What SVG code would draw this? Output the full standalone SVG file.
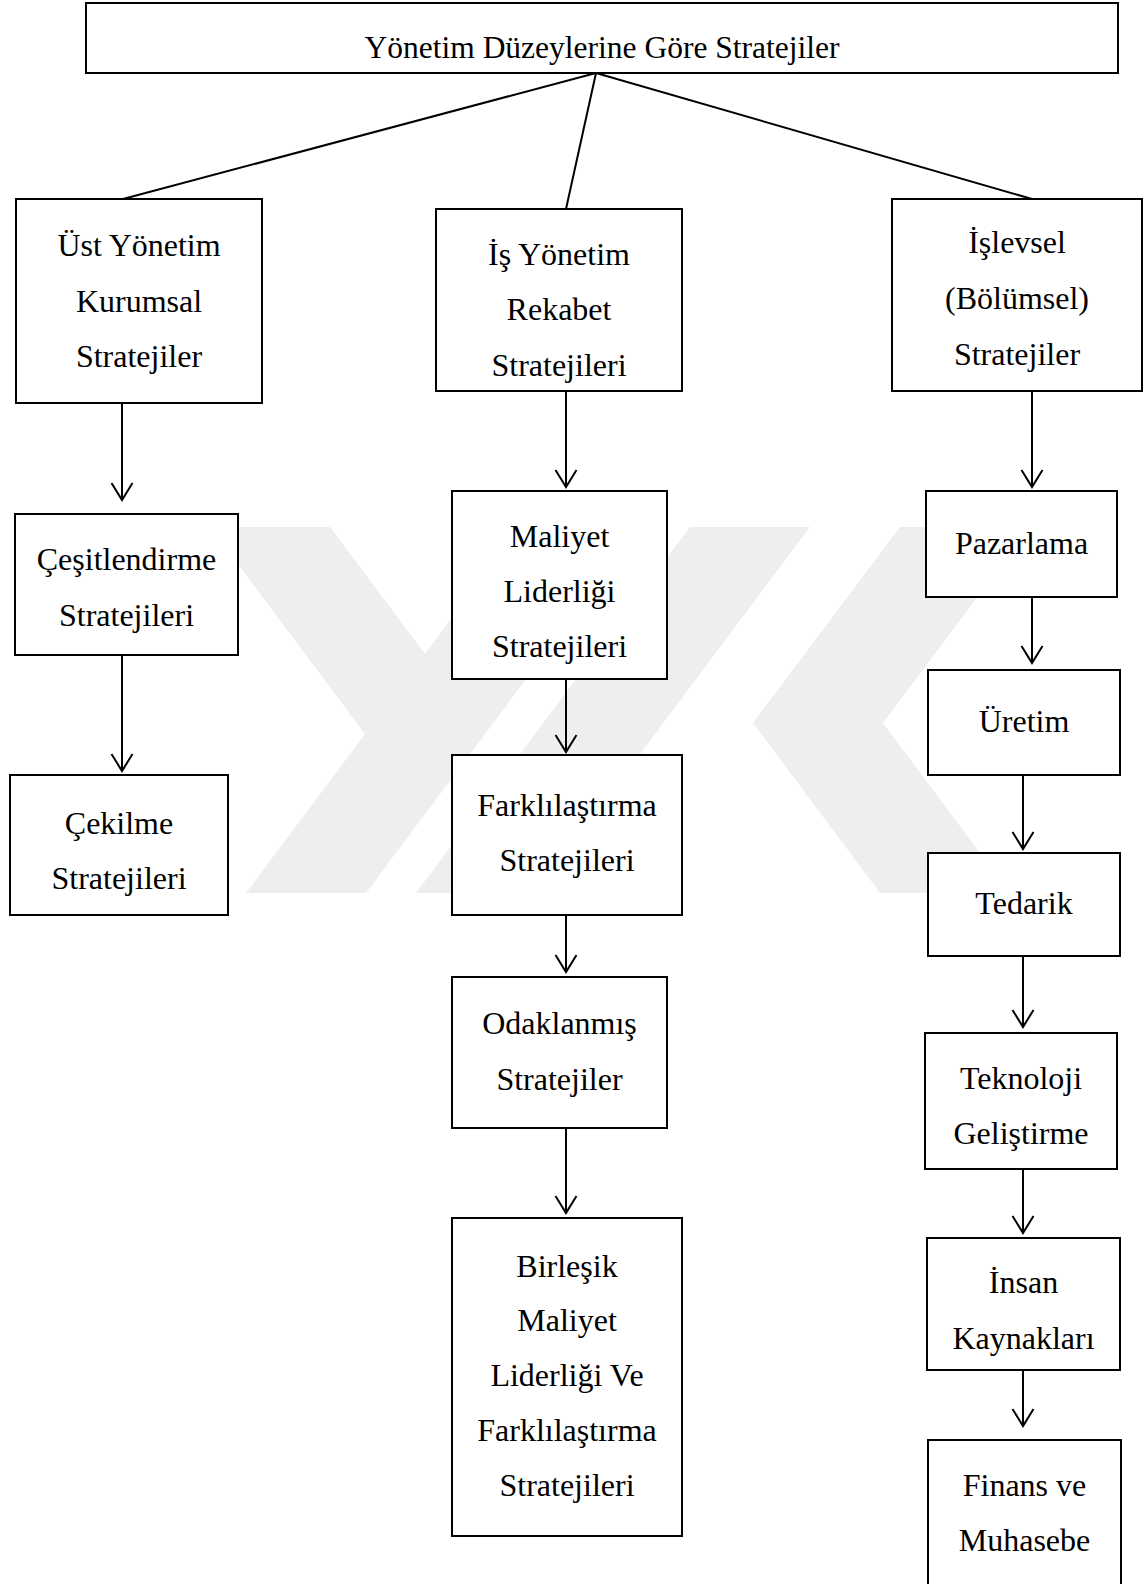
<svg xmlns="http://www.w3.org/2000/svg" width="1148" height="1584" viewBox="0 0 1148 1584">
<defs>
<style>
.box{fill:#fff;stroke:#000;stroke-width:2}
.t{font-family:"Liberation Serif","Times New Roman",serif;font-size:32px;fill:#000;text-anchor:middle}
.title{font-size:31.5px}
.ln{stroke:#000;stroke-width:2;fill:none}
.ar{stroke:#000;stroke-width:2;fill:none;marker-end:url(#ah)}
.wm{fill:#eeeeee}
</style>
<marker id="ah" markerWidth="22" markerHeight="24" refX="19" refY="12" orient="auto" markerUnits="userSpaceOnUse">
<path d="M2,1.5 L19,12 L2,22.5" fill="none" stroke="#000" stroke-width="2"/>
</marker>
</defs>
<rect width="1148" height="1584" fill="#fff"/>
<g id="watermark">
<polygon class="wm" points="210,527 330,527 425,654 365,734"/>
<polygon class="wm" points="520,527 640,527 366,893 246,893"/>
<polygon class="wm" points="690,527 810,527 536,893 416,893"/>
<polygon class="wm" points="900,527 1030,527 883,723 1010,893 880,893 753,723"/>
</g>
<g id="connectors">
<line class="ln" x1="596" y1="73" x2="123" y2="199"/>
<line class="ln" x1="596" y1="73" x2="566" y2="209"/>
<line class="ln" x1="596" y1="73" x2="1032" y2="199"/>
<line class="ar" x1="122" y1="403" x2="122" y2="500"/>
<line class="ar" x1="122" y1="655" x2="122" y2="771"/>
<line class="ar" x1="566" y1="391" x2="566" y2="487"/>
<line class="ar" x1="566" y1="679" x2="566" y2="752"/>
<line class="ar" x1="566" y1="915" x2="566" y2="972"/>
<line class="ar" x1="566" y1="1128" x2="566" y2="1213"/>
<line class="ar" x1="1032" y1="391" x2="1032" y2="487"/>
<line class="ar" x1="1032" y1="597" x2="1032" y2="663"/>
<line class="ar" x1="1023" y1="775" x2="1023" y2="849"/>
<line class="ar" x1="1023" y1="956" x2="1023" y2="1027"/>
<line class="ar" x1="1023" y1="1169" x2="1023" y2="1233"/>
<line class="ar" x1="1023" y1="1370" x2="1023" y2="1426"/>
</g>
<g id="n-top"><rect class="box" x="86" y="3" width="1032" height="70"/><text class="t title" x="602" y="58">Yönetim Düzeylerine Göre Stratejiler</text></g>
<g id="n-ust"><rect class="box" x="16" y="199" width="246" height="204"/><text class="t" x="139" y="256">Üst Yönetim</text><text class="t" x="139" y="312">Kurumsal</text><text class="t" x="139" y="367">Stratejiler</text></g>
<g id="n-is"><rect class="box" x="436" y="209" width="246" height="182"/><text class="t" x="559" y="265">İş Yönetim</text><text class="t" x="559" y="320">Rekabet</text><text class="t" x="559" y="376">Stratejileri</text></g>
<g id="n-islevsel"><rect class="box" x="892" y="199" width="250" height="192"/><text class="t" x="1017" y="253">İşlevsel</text><text class="t" x="1017" y="309">(Bölümsel)</text><text class="t" x="1017" y="365">Stratejiler</text></g>
<g id="n-cesit"><rect class="box" x="15" y="514" width="223" height="141"/><text class="t" x="126.5" y="570">Çeşitlendirme</text><text class="t" x="126.5" y="626">Stratejileri</text></g>
<g id="n-cekilme"><rect class="box" x="10" y="775" width="218" height="140"/><text class="t" x="119" y="834">Çekilme</text><text class="t" x="119" y="889">Stratejileri</text></g>
<g id="n-maliyet"><rect class="box" x="452" y="491" width="215" height="188"/><text class="t" x="559.5" y="547">Maliyet</text><text class="t" x="559.5" y="602">Liderliği</text><text class="t" x="559.5" y="657">Stratejileri</text></g>
<g id="n-fark"><rect class="box" x="452" y="755" width="230" height="160"/><text class="t" x="567" y="816">Farklılaştırma</text><text class="t" x="567" y="871">Stratejileri</text></g>
<g id="n-odak"><rect class="box" x="452" y="977" width="215" height="151"/><text class="t" x="559.5" y="1034">Odaklanmış</text><text class="t" x="559.5" y="1090">Stratejiler</text></g>
<g id="n-birlesik"><rect class="box" x="452" y="1218" width="230" height="318"/><text class="t" x="567" y="1277">Birleşik</text><text class="t" x="567" y="1331">Maliyet</text><text class="t" x="567" y="1386">Liderliği Ve</text><text class="t" x="567" y="1441">Farklılaştırma</text><text class="t" x="567" y="1496">Stratejileri</text></g>
<g id="n-pazarlama"><rect class="box" x="926" y="491" width="191" height="106"/><text class="t" x="1021.5" y="554">Pazarlama</text></g>
<g id="n-uretim"><rect class="box" x="928" y="670" width="192" height="105"/><text class="t" x="1024" y="732">Üretim</text></g>
<g id="n-tedarik"><rect class="box" x="928" y="853" width="192" height="103"/><text class="t" x="1024" y="914">Tedarik</text></g>
<g id="n-teknoloji"><rect class="box" x="925" y="1033" width="192" height="136"/><text class="t" x="1021" y="1089">Teknoloji</text><text class="t" x="1021" y="1144">Geliştirme</text></g>
<g id="n-insan"><rect class="box" x="927" y="1238" width="193" height="132"/><text class="t" x="1023.5" y="1293">İnsan</text><text class="t" x="1023.5" y="1349">Kaynakları</text></g>
<g id="n-finans"><rect class="box" x="928" y="1440" width="193" height="160"/><text class="t" x="1024.5" y="1496">Finans ve</text><text class="t" x="1024.5" y="1551">Muhasebe</text></g>
</svg>
